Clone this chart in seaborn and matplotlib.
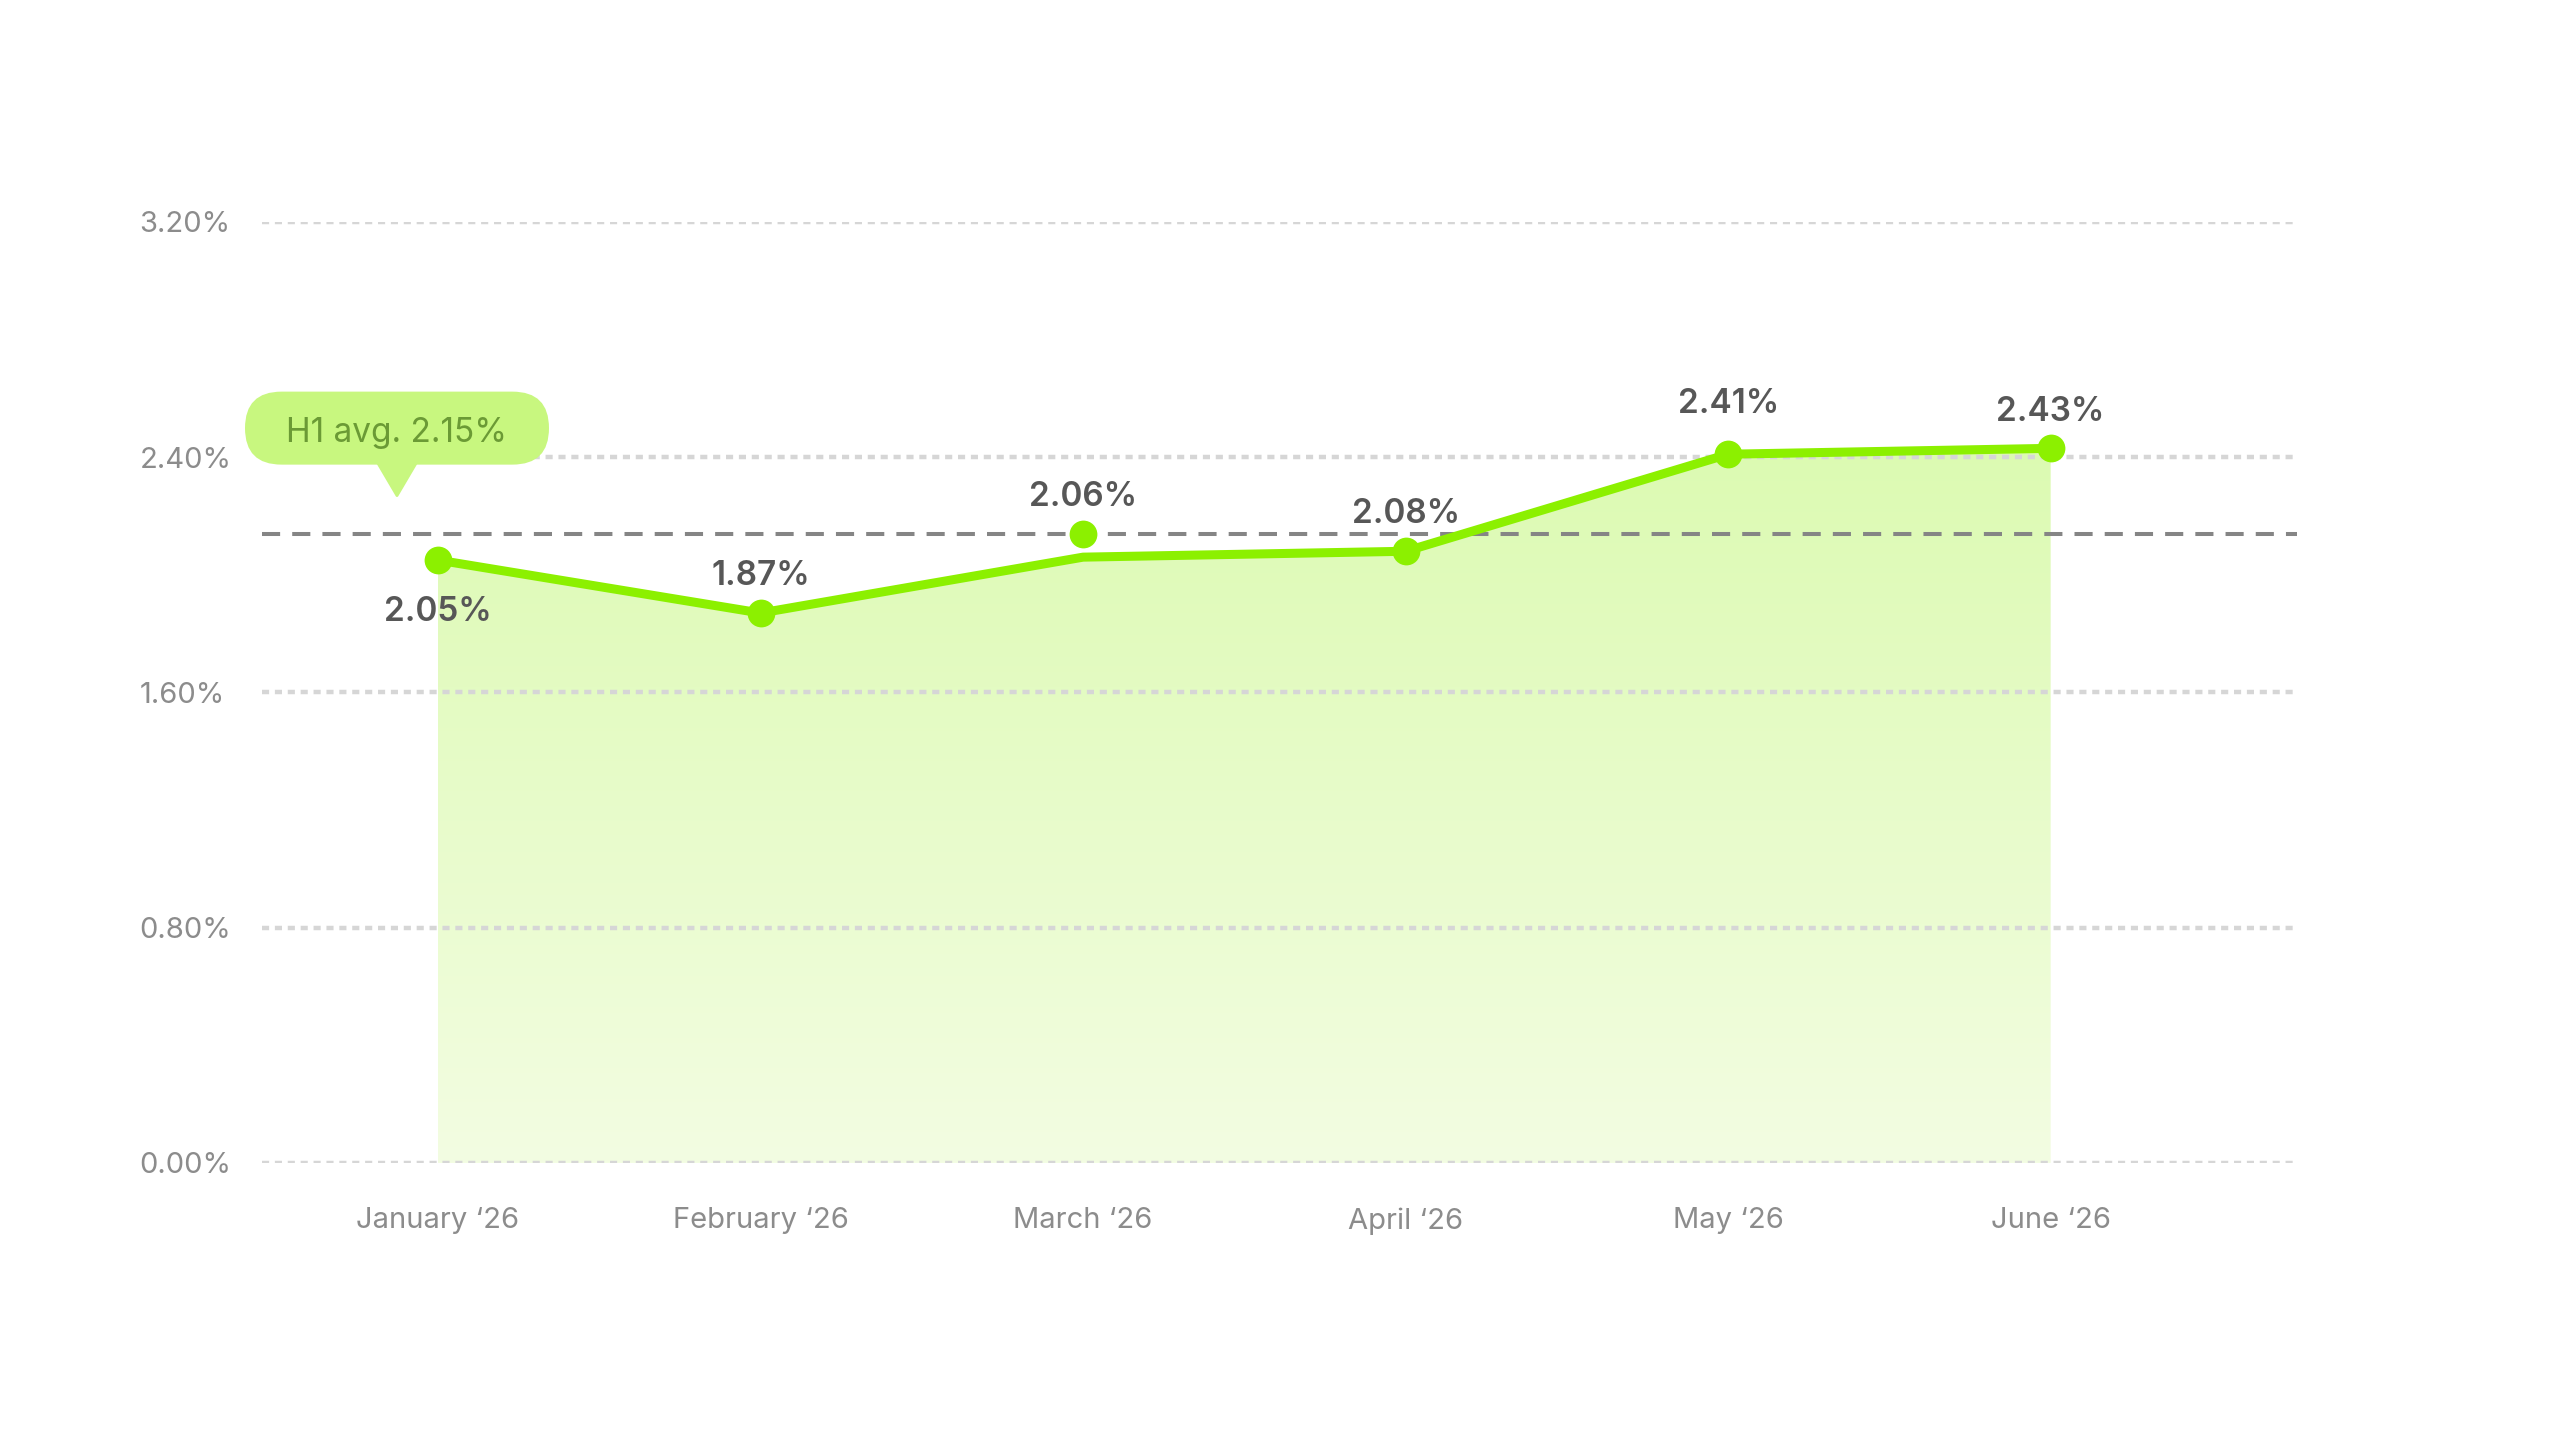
import numpy as np
import pandas as pd
import matplotlib
matplotlib.use("Agg")
import matplotlib.pyplot as plt
import seaborn as sns
from matplotlib.patches import FancyBboxPatch, Polygon
from matplotlib.transforms import IdentityTransform
from matplotlib.colors import LinearSegmentedColormap

# dados
meses = ["January ‘26", "February ‘26", "March ‘26", "April ‘26", "May ‘26", "June ‘26"]
taxas = [2.05, 1.87, 2.06, 2.08, 2.41, 2.43]
# no original o ponto de março fica em cima da linha da média
taxas_marcador = [2.05, 1.87, 2.14, 2.08, 2.41, 2.43]
media_linha = 2.14
media_texto = "H1 avg. 2.15%"
y_ticks = [0.0, 0.8, 1.6, 2.4, 3.2]

VERDE = "#8cf000"
CINZA_TXT = "#8c8c8c"
ROTULO = "#575757"

sns.set_theme(style="white")
plt.rcParams["font.family"] = ["Inter", "DejaVu Sans"]

df = pd.DataFrame({"pos": range(len(meses)), "mes": meses, "taxa": taxas,
                   "marcador": taxas_marcador})

fig = plt.figure(figsize=(25.6, 14.4), dpi=100)
ax = fig.add_axes([0.1023, 0.1924, 0.795, 0.6535])

# área com gradiente
area = ax.fill_between(df["pos"], df["taxa"], 0, color="none", lw=0)
cmap = LinearSegmentedColormap.from_list("grad", ["#f3fde2", "#dcfab2"])
grad = np.linspace(0, 1, 256).reshape(-1, 1)
im = ax.imshow(grad, extent=[0, len(meses) - 1, 0, max(taxas)], origin="lower",
               aspect="auto", cmap=cmap, zorder=1)
im.set_clip_path(area.get_paths()[0], transform=ax.transData)

# grade pontilhada (por cima da área)
for v in y_ticks:
    ax.axhline(v, color="#d6d6d6", lw=3.2, ls=(0, (1.6, 1.3)), zorder=1.5)

# linha da média
ax.axhline(media_linha, color="#858585", lw=2.9, ls=(0, (4.5, 3.0)), zorder=2)

sns.lineplot(data=df, x="pos", y="taxa", color=VERDE, lw=6.5, ax=ax, zorder=3)
sns.scatterplot(data=df, x="pos", y="marcador", color=VERDE, s=400, linewidth=0,
                ax=ax, zorder=4)

ax.set_xlim(-0.546, 5.764)
ax.set_ylim(0, 3.2)

# rótulos dos pontos
for i, row in df.iterrows():
    off = 26.5
    if i == 0:
        off = -37.5
    elif i == 4:
        off = 36
    ax.annotate(f"{row['taxa']:.2f}%", xy=(row["pos"], row["marcador"]),
                xytext=(0, off), textcoords="offset points", ha="center", va="center",
                fontsize=24, fontweight="semibold", color=ROTULO, zorder=5)

ax.set_xticks(df["pos"])
ax.set_xticklabels(meses)
ax.set_yticks(y_ticks)
ax.set_yticklabels([f"{v:.2f}%" for v in y_ticks])
ax.tick_params(axis="x", length=0, pad=32, labelsize=21, labelcolor=CINZA_TXT)
ax.tick_params(axis="y", length=0, pad=88, labelsize=21, labelcolor=CINZA_TXT)
for t in ax.get_yticklabels():
    t.set_horizontalalignment("left")
ax.set_xlabel("")
ax.set_ylabel("")
sns.despine(ax=ax, left=True, bottom=True)

# balão da média
px, py = ax.transData.transform((0, media_linha))
tx, ty = px - 41, py + 38
balao = FancyBboxPatch((tx - 152, ty + 31), 304, 73,
                       boxstyle="round,pad=0,rounding_size=36.5",
                       transform=IdentityTransform(), fc="#c8f77f", ec="none")
ponta = Polygon([(tx - 20, ty + 34), (tx + 20, ty + 34), (tx, ty)], closed=True,
                transform=IdentityTransform(), fc="#c8f77f", ec="#c8f77f", lw=2,
                joinstyle="round")
fig.add_artist(balao)
fig.add_artist(ponta)
fig.text(tx, ty + 63, media_texto, transform=IdentityTransform(), ha="center",
         va="center", fontsize=24, color="#6b9a35")

fig.savefig("out.png", dpi=100)
